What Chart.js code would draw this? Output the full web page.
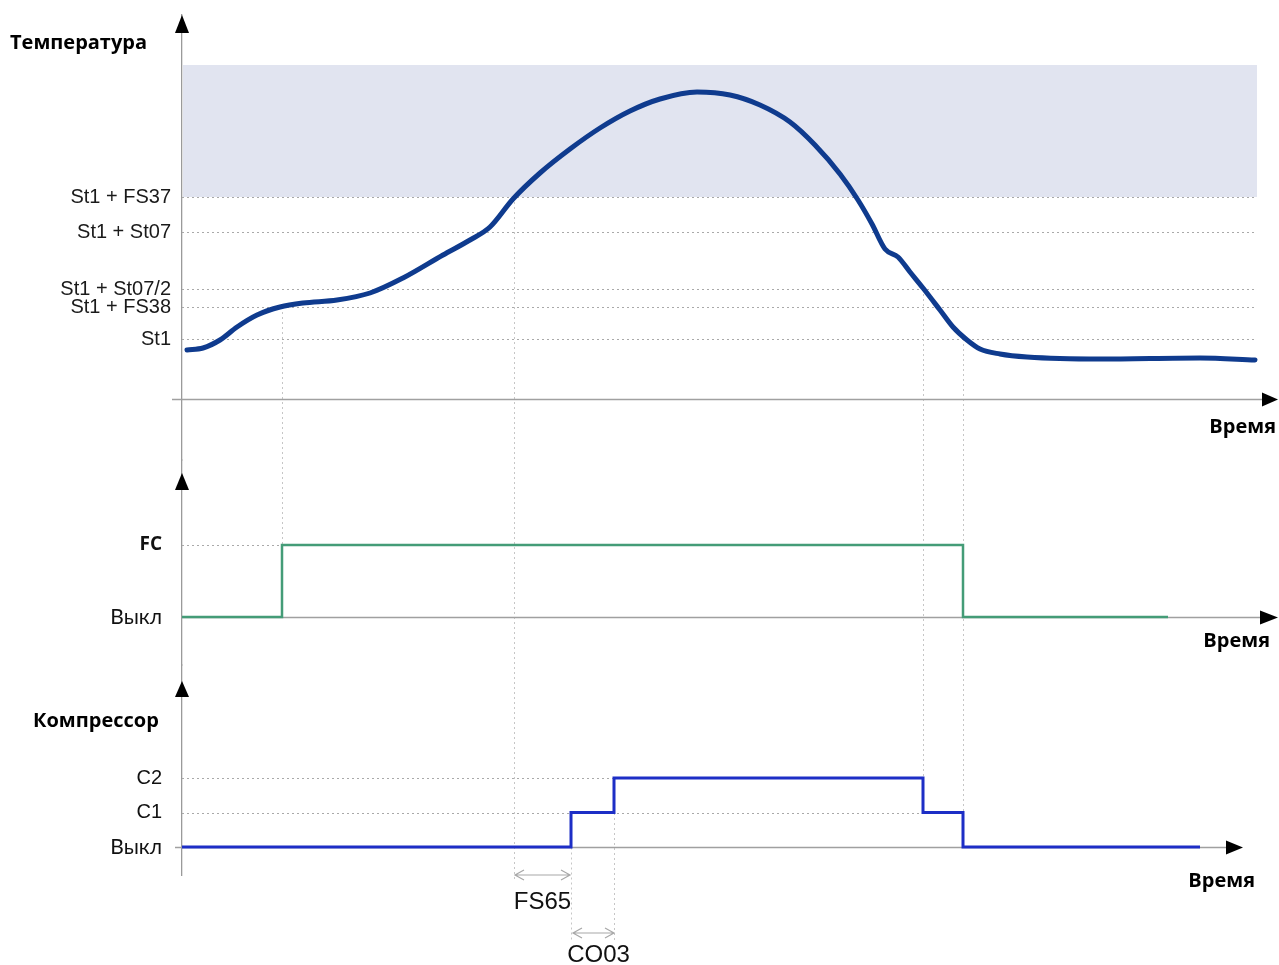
<!DOCTYPE html>
<html lang="ru">
<head>
<meta charset="UTF-8">
<title>Температура / FC / Компрессор</title>
<script src="https://cdn.jsdelivr.net/npm/chart.js"></script>
<style>
  html, body { margin: 0; padding: 0; background: #fff; }
  #wrap { width: 1279px; height: 965px; position: relative; }
</style>
</head>
<body>
<div id="wrap"><canvas id="myChart"></canvas></div>
<script>
// temperature curve (time, value)
const tempTimes  = [0.5, 2.1, 3.8, 5.5, 7.5, 9.8, 12.1, 15.5, 18.8, 22.1, 26.1, 28.8, 30.8, 33.1, 35.8, 38.8, 41.8, 44.8, 47.8, 51.5, 54.8, 57.8, 60.8, 63.3, 65.8, 67.6, 69.0, 70.3, 71.6, 72.8, 74.1, 75.8, 77.1, 78.5, 79.8, 81.8, 84.5, 91.8, 101.8, 107.3];
const tempValues = [4.9, 5.1, 5.9, 7.2, 8.4, 9.2, 9.6, 9.9, 10.6, 12.1, 14.4, 15.9, 17.2, 20.0, 22.6, 25.0, 27.1, 28.8, 30.0, 30.7, 30.4, 29.4, 27.7, 25.4, 22.5, 19.9, 17.5, 15.0, 14.2, 12.7, 11.1, 8.9, 7.2, 5.9, 5.0, 4.5, 4.2, 4.0, 4.1, 3.9];

// temperature thresholds (tick labels)
const tempLevels      = [6.0, 9.2, 11.0, 16.7, 20.2];
const tempLevelLabels = ['St1', 'St1 + FS38', 'St1 + St07/2', 'St1 + St07', 'St1 + FS37'];
const bandTop = 33.4;

// free cooling state
const fcTimes  = [0, 10, 78.1, 98.6];
const fcStates = [0, 1, 0, 0];
const fcLabels = ['Выкл', 'FC'];

// compressor steps
const compTimes  = [0, 38.9, 43.2, 74.1, 78.1, 101.8];
const compStates = [0, 1, 2, 1, 0, 0];
const compLabels = ['Выкл', 'C1', 'C2'];

const fs65Start = 33.2;

const NARROW = "'Liberation Sans Narrow', 'Arial Narrow', 'Liberation Sans', Arial, sans-serif";
const SANS = "'Liberation Sans', Arial, sans-serif";
const CAL = "Lato, 'Open Sans', sans-serif";
const BOLD = "'Open Sans', Lato, sans-serif";

function arrowHead(ctx, x, y, dir, len, half) {
    ctx.beginPath();
    if (dir === 'up') {
        ctx.moveTo(x, y); ctx.lineTo(x - half, y + len); ctx.lineTo(x + half, y + len);
    } else {
        ctx.moveTo(x, y); ctx.lineTo(x - len, y - half); ctx.lineTo(x - len, y + half);
    }
    ctx.closePath();
    ctx.fill();
}

function dimArrow(ctx, x0, x1, y) {
    ctx.beginPath();
    ctx.moveTo(x0, y); ctx.lineTo(x1, y);
    ctx.moveTo(x0 + 9, y - 5); ctx.lineTo(x0, y); ctx.lineTo(x0 + 9, y + 5);
    ctx.moveTo(x1 - 9, y - 5); ctx.lineTo(x1, y); ctx.lineTo(x1 - 9, y + 5);
    ctx.stroke();
}

// fixed width, no extra label padding -> panels land where the picture has them
function fixAxis(s) {
    s.width = 182;
    s.paddingTop = 0;
    s.paddingBottom = 0;
}

const diagram = {
    id: 'diagram',
    beforeDatasetsDraw(chart) {
        const {ctx, chartArea, scales: {x, yT, yF, yC}} = chart;
        ctx.save();
        // shaded zone above St1 + FS37
        const bx0 = x.getPixelForValue(0.1), bx1 = x.getPixelForValue(107.5);
        const by0 = yT.getPixelForValue(bandTop), by1 = yT.getPixelForValue(tempLevels[4]);
        ctx.fillStyle = '#e1e4f0';
        ctx.fillRect(bx0, by0, bx1 - bx0, by1 - by0);

        // dotted level lines
        ctx.setLineDash([2, 3]);
        ctx.lineWidth = 1;
        ctx.strokeStyle = '#a9a9a9';
        const hline = (scale, v, t0, t1) => {
            const py = Math.round(scale.getPixelForValue(v)) + 0.5;
            ctx.beginPath();
            ctx.moveTo(x.getPixelForValue(t0), py);
            ctx.lineTo(x.getPixelForValue(t1), py);
            ctx.stroke();
        };
        tempLevels.forEach(v => hline(yT, v, 0, 107.2));
        hline(yF, 1, 0, fcTimes[1]);
        hline(yC, 1, 0, compTimes[3]);
        hline(yC, 2, 0, compTimes[2]);

        // vertical event lines
        ctx.strokeStyle = '#c6c6c6';
        const vline = (t, y0, y1) => {
            const px = Math.round(x.getPixelForValue(t)) + 0.5;
            ctx.beginPath();
            ctx.moveTo(px, y0);
            ctx.lineTo(px, y1);
            ctx.stroke();
        };
        const bottom = chartArea.bottom;
        vline(fcTimes[1], yT.getPixelForValue(tempLevels[1]), yF.getPixelForValue(1));
        vline(fs65Start, yT.getPixelForValue(tempLevels[4]), bottom + 7);
        vline(compTimes[1], yC.getPixelForValue(1), bottom + 65);
        vline(compTimes[2], yC.getPixelForValue(2), bottom + 65);
        vline(compTimes[3], yT.getPixelForValue(tempLevels[2]), yC.getPixelForValue(2));
        vline(compTimes[4], yT.getPixelForValue(tempLevels[0]), yC.getPixelForValue(0));
        ctx.setLineDash([]);

        // time axes
        ctx.strokeStyle = '#a0a0a0';
        ctx.lineWidth = 1.3;
        const axis = (scale, t0, t1) => {
            const py = Math.round(scale.getPixelForValue(0)) + 0.5;
            ctx.beginPath();
            ctx.moveTo(x.getPixelForValue(t0), py);
            ctx.lineTo(x.getPixelForValue(t1), py);
            ctx.stroke();
        };
        axis(yT, -1.0, 109.0);
        axis(yF, 0, 109.0);
        axis(yC, -0.7, 105.5);
        ctx.restore();
    },
    afterDatasetsDraw(chart) {
        const {ctx, chartArea, scales: {x, yT, yF, yC}} = chart;
        ctx.save();
        const x0 = x.getPixelForValue(0);
        ctx.fillStyle = '#000';
        // arrow heads
        arrowHead(ctx, x0, chartArea.top, 'up', 18, 7);
        arrowHead(ctx, x0, yF.getPixelForValue(2.0), 'up', 17, 7);
        arrowHead(ctx, x0, yC.getPixelForValue(4.81), 'up', 16, 7);
        arrowHead(ctx, x.getPixelForValue(109.6), yT.getPixelForValue(0) + 0.5, 'right', 16, 7);
        arrowHead(ctx, x.getPixelForValue(109.6), yF.getPixelForValue(0) + 0.5, 'right', 18, 7);
        arrowHead(ctx, x.getPixelForValue(106.1), yC.getPixelForValue(0) + 0.5, 'right', 17, 7);

        // axis titles
        ctx.font = 'bold 20px ' + BOLD;
        ctx.textBaseline = 'middle';
        ctx.textAlign = 'left';
        ctx.fillText('Температура', 10, yT.getPixelForValue(bandTop) - 22);
        ctx.fillText('Компрессор', 33, yC.getPixelForValue(4.81) + 40);
        ctx.textAlign = 'right';
        ctx.fillText('Время', x.getPixelForValue(109.4), yT.getPixelForValue(0) + 28);
        ctx.fillText('Время', x.getPixelForValue(108.8), yF.getPixelForValue(0) + 24);
        ctx.fillText('Время', x.getPixelForValue(107.3), yC.getPixelForValue(0) + 34);

        // FS65 / CO03 delays
        const bottom = chartArea.bottom;
        ctx.strokeStyle = '#a8a8a8';
        ctx.lineWidth = 1.2;
        const f0 = x.getPixelForValue(fs65Start), f1 = x.getPixelForValue(compTimes[1]);
        const c0 = x.getPixelForValue(compTimes[1]) + 2, c1 = x.getPixelForValue(compTimes[2]);
        dimArrow(ctx, f0 + 1, f1 - 1, bottom);
        dimArrow(ctx, c0, c1, bottom + 58);
        ctx.fillStyle = '#111';
        ctx.textAlign = 'center';
        ctx.font = '24px ' + SANS;
        ctx.fillText('FS65', (f0 + f1) / 2, bottom + 27);
        ctx.fillText('CO03', (c0 + c1) / 2 + 5, bottom + 80);
        ctx.restore();
    }
};

const ctx = document.querySelector('#myChart');
const myChart = new Chart(ctx, {
    type: 'line',
    data: {
        datasets: [{
            label: 'Температура',
            data: tempTimes.map((t, i) => ({x: t, y: tempValues[i]})),
            yAxisID: 'yT',
            borderColor: '#0f3b8e',
            borderWidth: 5,
            borderCapStyle: 'round',
            cubicInterpolationMode: 'monotone',
            pointRadius: 0
        }, {
            label: 'FC',
            data: fcTimes.map((t, i) => ({x: t, y: fcStates[i]})),
            yAxisID: 'yF',
            stepped: 'before',
            borderColor: '#449c77',
            borderWidth: 2.5,
            pointRadius: 0
        }, {
            label: 'Компрессор',
            data: compTimes.map((t, i) => ({x: t, y: compStates[i]})),
            yAxisID: 'yC',
            stepped: 'before',
            borderColor: '#1d2ec6',
            borderWidth: 3,
            pointRadius: 0
        }]
    },
    options: {
        responsive: true,
        maintainAspectRatio: false,
        animation: false,
        layout: { padding: { top: 15, bottom: 90, left: 0, right: 1 } },
        plugins: { legend: { display: false }, tooltip: { enabled: false } },
        scales: {
            x: { type: 'linear', min: 0, max: 109.6, display: false },
            yT: {
                type: 'linear', position: 'left', stack: 'panels', stackWeight: 445, weight: 3,
                min: -6.1, max: 38.4,
                grid: { display: false, drawTicks: false },
                border: { display: true, color: '#9a9a9a', width: 1.3 },
                afterFit: fixAxis,
                afterBuildTicks: s => { s.ticks = tempLevels.map(v => ({value: v})); },
                ticks: {
                    autoSkip: false, padding: 11, color: '#1a1a1a',
                    font: { family: NARROW, size: 20 },
                    callback: (v, i) => tempLevelLabels[i]
                }
            },
            yF: {
                type: 'linear', position: 'left', stack: 'panels', stackWeight: 205, weight: 2,
                min: -0.6667, max: 2.1806,
                grid: { display: false, drawTicks: false },
                border: { display: true, color: '#9a9a9a', width: 1.3 },
                afterFit: fixAxis,
                afterBuildTicks: s => { s.ticks = [0, 1].map(v => ({value: v})); },
                ticks: {
                    autoSkip: false, padding: 20, color: '#111',
                    font: c => c.tick && c.tick.value === 1
                        ? { family: BOLD, size: 19, weight: 'bold' }
                        : { family: CAL, size: 21 },
                    callback: (v, i) => fcLabels[i]
                }
            },
            yC: {
                type: 'linear', position: 'left', stack: 'panels', stackWeight: 210, weight: 1,
                min: -0.8116, max: 5.2754,
                grid: { display: false, drawTicks: false },
                border: { display: true, color: '#9a9a9a', width: 1.3 },
                afterFit: fixAxis,
                afterBuildTicks: s => { s.ticks = [0, 1, 2].map(v => ({value: v})); },
                ticks: {
                    autoSkip: false, padding: 20, color: '#111',
                    font: c => c.tick && c.tick.value === 0
                        ? { family: CAL, size: 21 }
                        : { family: NARROW, size: 20 },
                    callback: (v, i) => compLabels[i]
                }
            }
        }
    },
    plugins: [diagram]
});
</script>
</body>
</html>
